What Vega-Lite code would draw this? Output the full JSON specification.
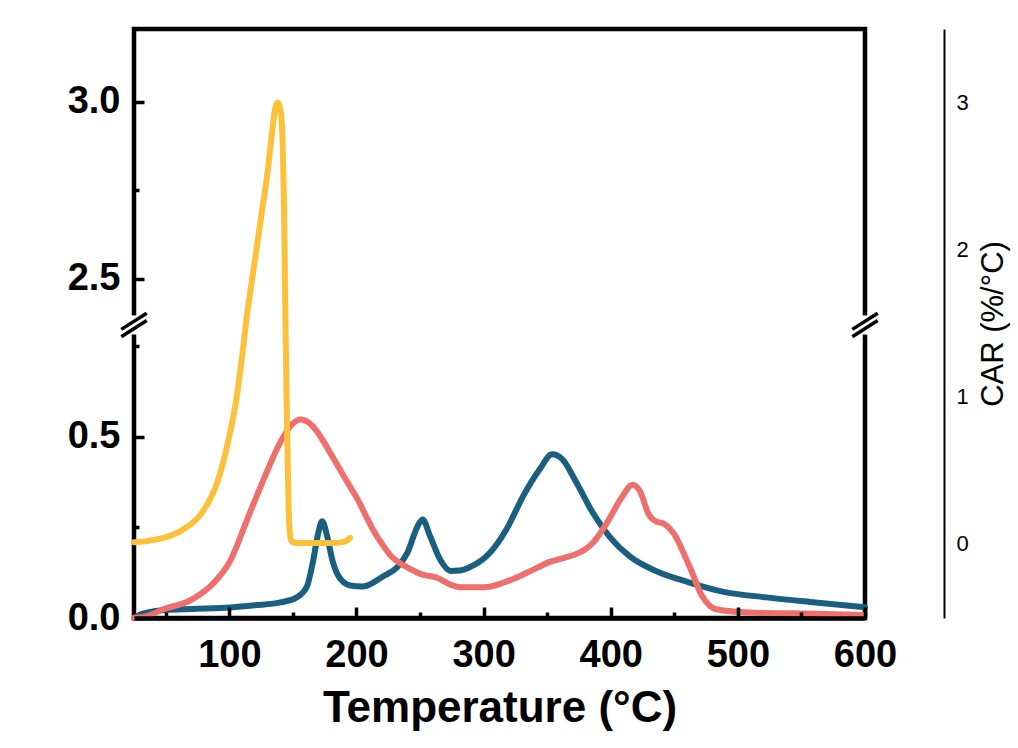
{
  "$schema": "https://vega.github.io/schema/vega-lite/v6.json",
  "width": 731,
  "height": 589,
  "autosize": "none",
  "padding": {"left": 134, "top": 29, "right": 153, "bottom": 130},
  "background": "white",
  "config": {
    "view": {"stroke": "black", "strokeWidth": 4.5},
    "font": "Liberation Sans",
    "axisRight": {"labelFontSize": 22}
  },
  "datasets": {
    "left": [
      {"T": 25, "v": 0.0, "s": "A"}, {"T": 30, "v": 0.01, "s": "A"}, {"T": 40, "v": 0.018, "s": "A"}, {"T": 50, "v": 0.022, "s": "A"},
      {"T": 70, "v": 0.025, "s": "A"}, {"T": 101, "v": 0.029, "s": "A"}, {"T": 120, "v": 0.035, "s": "A"}, {"T": 140, "v": 0.043, "s": "A"},
      {"T": 153, "v": 0.057, "s": "A"}, {"T": 161, "v": 0.087, "s": "A"}, {"T": 166, "v": 0.16, "s": "A"}, {"T": 170, "v": 0.236, "s": "A"},
      {"T": 173, "v": 0.267, "s": "A"}, {"T": 177, "v": 0.225, "s": "A"}, {"T": 181, "v": 0.16, "s": "A"}, {"T": 186, "v": 0.115, "s": "A"},
      {"T": 195, "v": 0.09, "s": "A"}, {"T": 205, "v": 0.087, "s": "A"}, {"T": 221, "v": 0.115, "s": "A"}, {"T": 232, "v": 0.14, "s": "A"},
      {"T": 240, "v": 0.18, "s": "A"}, {"T": 248, "v": 0.253, "s": "A"}, {"T": 252, "v": 0.272, "s": "A"}, {"T": 258, "v": 0.225, "s": "A"},
      {"T": 266, "v": 0.16, "s": "A"}, {"T": 274, "v": 0.13, "s": "A"}, {"T": 281, "v": 0.131, "s": "A"}, {"T": 289, "v": 0.14, "s": "A"},
      {"T": 305, "v": 0.18, "s": "A"}, {"T": 318, "v": 0.245, "s": "A"}, {"T": 331, "v": 0.336, "s": "A"}, {"T": 344, "v": 0.41, "s": "A"},
      {"T": 354, "v": 0.452, "s": "A"}, {"T": 362, "v": 0.438, "s": "A"}, {"T": 373, "v": 0.374, "s": "A"}, {"T": 386, "v": 0.29, "s": "A"},
      {"T": 399, "v": 0.225, "s": "A"}, {"T": 415, "v": 0.17, "s": "A"}, {"T": 436, "v": 0.129, "s": "A"}, {"T": 462, "v": 0.098, "s": "A"},
      {"T": 488, "v": 0.073, "s": "A"}, {"T": 522, "v": 0.057, "s": "A"}, {"T": 561, "v": 0.043, "s": "A"}, {"T": 600, "v": 0.03, "s": "A"},
      {"T": 25, "v": 0.0, "s": "B"}, {"T": 35, "v": 0.005, "s": "B"}, {"T": 48, "v": 0.024, "s": "B"}, {"T": 70, "v": 0.05, "s": "B"},
      {"T": 88, "v": 0.098, "s": "B"}, {"T": 101, "v": 0.16, "s": "B"}, {"T": 114, "v": 0.272, "s": "B"}, {"T": 127, "v": 0.383, "s": "B"},
      {"T": 140, "v": 0.485, "s": "B"}, {"T": 148, "v": 0.53, "s": "B"}, {"T": 156, "v": 0.548, "s": "B"}, {"T": 160, "v": 0.545, "s": "B"},
      {"T": 164, "v": 0.535, "s": "B"}, {"T": 169, "v": 0.515, "s": "B"}, {"T": 174, "v": 0.488, "s": "B"}, {"T": 180, "v": 0.452, "s": "B"},
      {"T": 187, "v": 0.41, "s": "B"}, {"T": 194, "v": 0.368, "s": "B"}, {"T": 201, "v": 0.327, "s": "B"}, {"T": 207, "v": 0.285, "s": "B"},
      {"T": 213, "v": 0.244, "s": "B"}, {"T": 220, "v": 0.205, "s": "B"}, {"T": 227, "v": 0.172, "s": "B"}, {"T": 234, "v": 0.152, "s": "B"},
      {"T": 240, "v": 0.14, "s": "B"}, {"T": 252, "v": 0.12, "s": "B"}, {"T": 263, "v": 0.112, "s": "B"}, {"T": 274, "v": 0.092, "s": "B"},
      {"T": 281, "v": 0.085, "s": "B"}, {"T": 300, "v": 0.085, "s": "B"}, {"T": 315, "v": 0.097, "s": "B"}, {"T": 326, "v": 0.112, "s": "B"},
      {"T": 340, "v": 0.135, "s": "B"}, {"T": 352, "v": 0.155, "s": "B"}, {"T": 362, "v": 0.165, "s": "B"}, {"T": 373, "v": 0.177, "s": "B"},
      {"T": 380, "v": 0.19, "s": "B"}, {"T": 386, "v": 0.208, "s": "B"}, {"T": 397, "v": 0.263, "s": "B"}, {"T": 409, "v": 0.335, "s": "B"},
      {"T": 417, "v": 0.368, "s": "B"}, {"T": 423, "v": 0.35, "s": "B"}, {"T": 430, "v": 0.285, "s": "B"}, {"T": 436, "v": 0.266, "s": "B"},
      {"T": 441, "v": 0.262, "s": "B"}, {"T": 449, "v": 0.236, "s": "B"}, {"T": 462, "v": 0.142, "s": "B"}, {"T": 472, "v": 0.06, "s": "B"},
      {"T": 483, "v": 0.024, "s": "B"}, {"T": 509, "v": 0.015, "s": "B"}, {"T": 560, "v": 0.012, "s": "B"}, {"T": 600, "v": 0.008, "s": "B"}
    ],
    "car": [
      {"T": 25, "v": 0.005}, {"T": 40, "v": 0.02}, {"T": 55, "v": 0.055}, {"T": 65, "v": 0.1}, {"T": 75, "v": 0.17},
      {"T": 83, "v": 0.27}, {"T": 90, "v": 0.4}, {"T": 96, "v": 0.58}, {"T": 101, "v": 0.77}, {"T": 105, "v": 0.95},
      {"T": 110, "v": 1.27}, {"T": 114, "v": 1.56}, {"T": 118, "v": 1.8}, {"T": 122, "v": 2.04}, {"T": 126, "v": 2.28},
      {"T": 130, "v": 2.52}, {"T": 133, "v": 2.75}, {"T": 135.5, "v": 2.93}, {"T": 138, "v": 3.0}, {"T": 140.5, "v": 2.93},
      {"T": 142, "v": 2.7}, {"T": 143, "v": 2.3}, {"T": 144, "v": 1.6}, {"T": 145, "v": 1.0}, {"T": 146, "v": 0.5},
      {"T": 147, "v": 0.15}, {"T": 148.5, "v": 0.02}, {"T": 152, "v": 0.0}, {"T": 180, "v": 0.0}, {"T": 188, "v": 0.005},
      {"T": 192, "v": 0.015}, {"T": 195, "v": 0.035}
    ]
  },
  "resolve": {"scale": {"y": "independent"}},
  "layer": [
    {
      "data": {"name": "left"},
      "mark": {"type": "line", "strokeWidth": 6, "interpolate": "monotone", "strokeCap": "round", "strokeJoin": "round"},
      "encoding": {
        "x": {
          "field": "T", "type": "quantitative", "title": "Temperature (°C)",
          "scale": {"domain": [25, 600], "nice": false, "zero": false},
          "axis": {
            "values": [50, 100, 150, 200, 250, 300, 350, 400, 450, 500, 550, 600],
            "labelExpr": "datum.value % 100 == 0 ? datum.label : ''",
            "tickSize": {"condition": {"test": "datum.value % 100 != 0", "value": -6}, "value": -11},
            "tickWidth": 3.5, "tickColor": "black",
            "domain": true, "domainColor": "black", "domainWidth": 4.5,
            "labelFont": "Liberation Sans", "labelFontSize": 38, "labelFontWeight": "bold", "labelColor": "black",
            "labelPadding": 29, "labelFlush": false, "labelOverlap": false, "grid": false,
            "titleFont": "Liberation Sans", "titleFontSize": 44, "titleFontWeight": "bold",
            "titleColor": "black", "titlePadding": 7, "zindex": 1
          }
        },
        "y": {
          "field": "v", "type": "quantitative",
          "scale": {"type": "linear", "domain": [0, 0.79, 2.4, 3.206], "range": [589, 303, 285, 0], "nice": false, "zero": false},
          "axis": {
            "orient": "left",
            "values": [0, 0.25, 0.5, 0.75, 2.5, 2.75, 3],
            "labelExpr": "(datum.value == 0 || datum.value == 0.5 || datum.value == 2.5 || datum.value == 3) ? format(datum.value, '.1f') : ''",
            "tickSize": {"condition": {"test": "datum.value == 0.25 || datum.value == 0.75 || datum.value == 2.75", "value": -5}, "value": -10},
            "tickWidth": 3.5, "tickColor": "black", "domain": false,
            "labelFont": "Liberation Sans", "labelFontSize": 38, "labelFontWeight": "bold", "labelColor": "black",
            "labelPadding": 24, "labelFlush": false, "labelOverlap": false, "grid": false, "title": null
          }
        },
        "color": {"field": "s", "type": "nominal", "scale": {"domain": ["A", "B"], "range": ["#1a5e80", "#ee6f6c"]}, "legend": null}
      }
    },
    {
      "data": {"name": "car"},
      "mark": {"type": "line", "strokeWidth": 6, "interpolate": "monotone", "strokeCap": "round", "strokeJoin": "round", "color": "#fcc13b"},
      "encoding": {
        "x": {"field": "T", "type": "quantitative", "title": "Temperature (°C)"},
        "y": {
          "field": "v", "type": "quantitative",
          "scale": {"domain": [-0.51, 3.5], "nice": false, "zero": false},
          "axis": {
            "orient": "right", "offset": 79, "values": [0, 1, 2, 3], "format": "d",
            "domain": true, "domainColor": "black", "domainWidth": 2, "ticks": false,
            "labelFont": "Liberation Sans", "labelFontSize": 22, "labelFontWeight": "normal", "labelColor": "black",
            "labelPadding": 12, "labelFlush": false, "grid": false,
            "title": "CAR (%/°C)", "titleFont": "Liberation Sans", "titleFontSize": 31, "titleFontWeight": "normal",
            "titleColor": "black", "titleAngle": 270, "titleBaseline": "top", "titlePadding": 10,
            "encode": {"labels": {"update": {"fontSize": {"value": 22}}}}
          }
        }
      }
    },
    {"data": {"values": [{"k": 0}]}, "mark": {"type": "rule", "color": "white", "strokeWidth": 8},
     "encoding": {"x": {"datum": 25, "type": "quantitative", "title": "Temperature (°C)"},
                  "y": {"datum": 1.42, "type": "quantitative", "scale": {"domain": [-0.51, 3.5], "nice": false, "zero": false}, "axis": null},
                  "y2": {"datum": 1.55}}},
    {"data": {"values": [{"k": 0}]}, "mark": {"type": "rule", "color": "white", "strokeWidth": 8},
     "encoding": {"x": {"datum": 600, "type": "quantitative", "title": "Temperature (°C)"},
                  "y": {"datum": 1.42, "type": "quantitative", "scale": {"domain": [-0.51, 3.5], "nice": false, "zero": false}, "axis": null},
                  "y2": {"datum": 1.55}}},
    {"data": {"values": [{"k": 0}]}, "mark": {"type": "rule", "color": "black", "strokeWidth": 3.5},
     "encoding": {"x": {"datum": 15, "type": "quantitative", "title": "Temperature (°C)"}, "x2": {"datum": 35},
                  "y": {"datum": 1.455, "type": "quantitative", "scale": {"domain": [-0.51, 3.5], "nice": false, "zero": false}, "axis": null},
                  "y2": {"datum": 1.565}}},
    {"data": {"values": [{"k": 0}]}, "mark": {"type": "rule", "color": "black", "strokeWidth": 3.5},
     "encoding": {"x": {"datum": 15, "type": "quantitative", "title": "Temperature (°C)"}, "x2": {"datum": 35},
                  "y": {"datum": 1.405, "type": "quantitative", "scale": {"domain": [-0.51, 3.5], "nice": false, "zero": false}, "axis": null},
                  "y2": {"datum": 1.515}}},
    {"data": {"values": [{"k": 0}]}, "mark": {"type": "rule", "color": "black", "strokeWidth": 3.5},
     "encoding": {"x": {"datum": 590, "type": "quantitative", "title": "Temperature (°C)"}, "x2": {"datum": 610},
                  "y": {"datum": 1.455, "type": "quantitative", "scale": {"domain": [-0.51, 3.5], "nice": false, "zero": false}, "axis": null},
                  "y2": {"datum": 1.565}}},
    {"data": {"values": [{"k": 0}]}, "mark": {"type": "rule", "color": "black", "strokeWidth": 3.5},
     "encoding": {"x": {"datum": 590, "type": "quantitative", "title": "Temperature (°C)"}, "x2": {"datum": 610},
                  "y": {"datum": 1.405, "type": "quantitative", "scale": {"domain": [-0.51, 3.5], "nice": false, "zero": false}, "axis": null},
                  "y2": {"datum": 1.515}}}
  ]
}
